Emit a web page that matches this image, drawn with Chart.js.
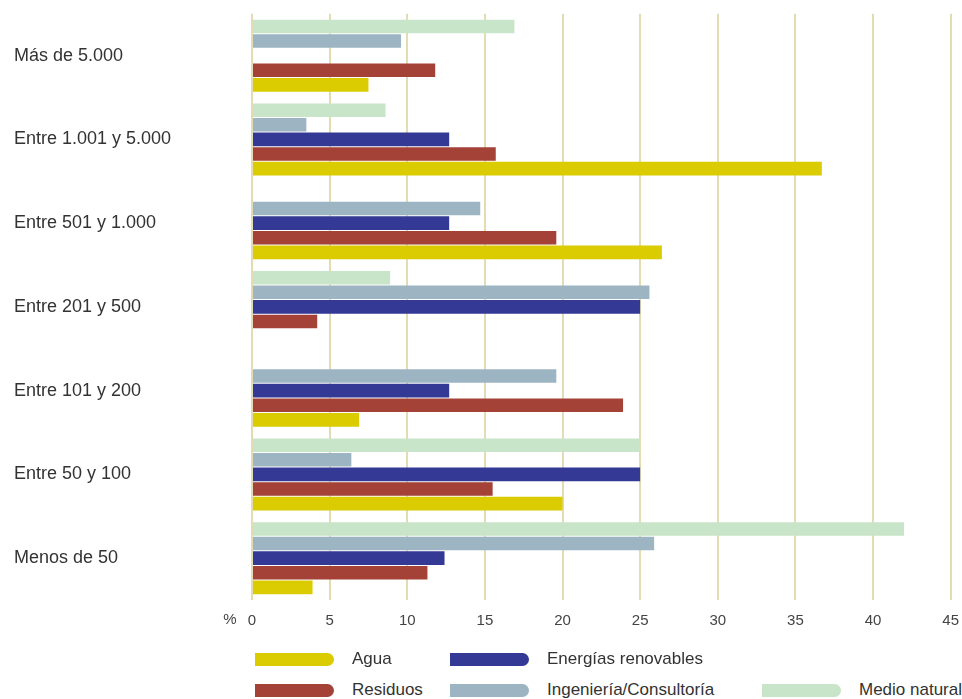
<!DOCTYPE html>
<html>
<head>
<meta charset="utf-8">
<script src="https://cdn.jsdelivr.net/npm/chart.js@4.4.1/dist/chart.umd.min.js"></script>
<style>
  html, body { margin:0; padding:0; background:#fff; }
  body { width:962px; height:699px; position:relative; overflow:hidden; font-family:"Liberation Sans", Arial, sans-serif; color:#333; }
  #wrap { position:absolute; left:0; top:0; width:971px; height:650px; }
  .leg { position:absolute; display:flex; align-items:center; font-size:17px; white-space:nowrap; }
  .sw { width:79px; height:13px; border-radius:0 7px 7px 0; margin-right:18px; }
</style>
</head>
<body>
<div id="wrap"><canvas id="chart"></canvas></div>
<div id="legend"></div>
<script>
// ============ Data ============
const categories = ["Más de 5.000", "Entre 1.001 y 5.000", "Entre 501 y 1.000", "Entre 201 y 500", "Entre 101 y 200", "Entre 50 y 100", "Menos de 50"];

const agua        = [7.5, 36.7, 26.4, null, 6.9, 20.0, 3.9];
const residuos    = [11.8, 15.7, 19.6, 4.2, 23.9, 15.5, 11.3];
const energias    = [null, 12.7, 12.7, 25.0, 12.7, 25.0, 12.4];
const ingenieria  = [9.6, 3.5, 14.7, 25.6, 19.6, 6.4, 25.9];
const medioNatural = [16.9, 8.6, null, 8.9, null, 25.0, 42.0];

const xTicks = [0, 5, 10, 15, 20, 25, 30, 35, 40, 45];

const COLORS = {
  agua: "#dacc00",
  residuos: "#a44238",
  energias: "#343996",
  ingenieria: "#9db4c2",
  medio: "#c8e5c9",
  grid: "#e3dcb2"
};

// top-to-bottom order inside each group
const series = [
  { label: "Medio natural", data: medioNatural, color: COLORS.medio },
  { label: "Ingeniería/Consultoría", data: ingenieria, color: COLORS.ingenieria },
  { label: "Energías renovables", data: energias, color: COLORS.energias },
  { label: "Residuos", data: residuos, color: COLORS.residuos },
  { label: "Agua", data: agua, color: COLORS.agua }
];

const FONT = "'Liberation Sans', Arial, sans-serif";

// ============ Plugins ============
// "%" unit sits on the tick row, left of the 0
const percentLabel = {
  id: "percentLabel",
  afterDraw(chart){
    const x = chart.scales.x;
    const ctx = chart.ctx;
    ctx.save();
    ctx.font = "15px " + FONT;
    ctx.fillStyle = "#444";
    ctx.textAlign = "center";
    ctx.textBaseline = "middle";
    ctx.fillText("%", x.left - 22, x.top + 20);
    ctx.restore();
  }
};

// ============ Chart ============
new Chart(document.getElementById("chart"), {
  type: "bar",
  data: {
    labels: categories,
    datasets: series.map(s => ({
      label: s.label,
      data: s.data,
      backgroundColor: s.color,
      borderWidth: 0,
      barPercentage: 0.93,
      categoryPercentage: 0.872
    }))
  },
  options: {
    indexAxis: "y",
    responsive: true,
    maintainAspectRatio: false,
    animation: false,
    layout: { padding: { top: 9, right: 0, bottom: 8, left: 14 } },
    scales: {
      x: {
        min: 0, max: 45,
        afterBuildTicks: s => { s.ticks = xTicks.map(v => ({ value: v })); },
        grid: { color: COLORS.grid, lineWidth: 2, drawTicks: false },
        border: { display: false },
        ticks: { color: "#444", padding: 12, font: { size: 15, family: FONT } }
      },
      y: {
        grid: { display: false },
        border: { display: false },
        afterFit: s => { s.width = 238; },
        ticks: {
          crossAlign: "far",
          color: "#333",
          font: { size: 18, family: FONT }
        }
      }
    },
    plugins: { legend: { display: false }, tooltip: { enabled: false } }
  },
  plugins: [percentLabel]
});

// ============ Legend ============
const legendItems = [
  { label: "Agua", color: COLORS.agua, x: 255, y: 652 },
  { label: "Energías renovables", color: COLORS.energias, x: 450, y: 652 },
  { label: "Residuos", color: COLORS.residuos, x: 255, y: 683 },
  { label: "Ingeniería/Consultoría", color: COLORS.ingenieria, x: 450, y: 683 },
  { label: "Medio natural", color: COLORS.medio, x: 762, y: 683 }
];
const legend = document.getElementById("legend");
legendItems.forEach(it => {
  const el = document.createElement("div");
  el.className = "leg";
  el.style.left = it.x + "px";
  el.style.top = (it.y - 3) + "px";
  el.innerHTML = `<span class="sw" style="background:${it.color}"></span><span>${it.label}</span>`;
  legend.appendChild(el);
});
</script>
</body>
</html>
